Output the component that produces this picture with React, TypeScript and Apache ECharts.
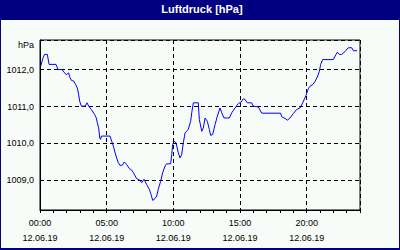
import React, { useEffect, useRef } from "react";
import * as echarts from "echarts";

const title = "Luftdruck [hPa]";
const unitLabel = "hPa";
const dateLabel = "12.06.19";
const hours = [
  0.05, 0.23, 0.34, 0.55, 0.68, 1.2, 1.35, 1.65, 1.85, 1.97, 2.15, 2.23, 2.35, 2.55, 2.68, 2.8, 2.9, 2.98,
  3.1, 3.38, 3.53, 3.65, 3.85, 4.1, 4.22, 4.3, 4.4, 4.48, 4.55, 4.6, 5.25, 5.38, 5.5, 5.7, 5.87, 6.0, 6.17,
  6.32, 6.5, 6.7, 6.88, 7.0, 7.25, 7.5, 7.63, 7.8, 8.0, 8.2, 8.33, 8.45, 8.63, 8.75, 8.87, 9.05, 9.2, 9.38,
  9.5, 9.8, 9.88, 9.95, 10.05, 10.2, 10.37, 10.5, 10.63, 10.75, 10.88, 11.12, 11.3, 11.38, 11.5, 11.87,
  11.95, 12.13, 12.25, 12.38, 12.55, 12.7, 12.8, 12.95, 13.13, 13.3, 13.5, 13.63, 13.8, 14.2, 14.38, 14.63,
  14.87, 15.08, 15.25, 15.38, 15.55, 15.88, 16.0, 16.37, 16.63, 18.05, 18.13, 18.38, 18.55, 18.75, 19.0,
  19.25, 19.5, 19.7, 19.95, 20.12, 20.25, 20.45, 20.63, 20.8, 20.95, 21.05, 21.2, 22.0, 22.2, 22.3, 22.45,
  22.63, 22.88, 23.12, 23.38, 23.5, 23.78,
];
const pressure = [
  1012.09, 1012.32, 1012.41, 1012.41, 1012.14, 1012.14, 1012.0, 1012.0, 1011.91, 1011.86, 1011.91, 1011.8,
  1011.71, 1011.68, 1011.59, 1011.5, 1011.32, 1011.14, 1011.01, 1011.01, 1011.1, 1011.01, 1010.92, 1010.78,
  1010.69, 1010.56, 1010.42, 1010.15, 1010.11, 1010.2, 1010.2, 1010.06, 1009.93, 1009.66, 1009.48, 1009.41,
  1009.41, 1009.5, 1009.43, 1009.32, 1009.28, 1009.21, 1009.05, 1009.0, 1008.94, 1009.03, 1008.89, 1008.76,
  1008.62, 1008.46, 1008.51, 1008.58, 1008.76, 1008.98, 1009.21, 1009.39, 1009.45, 1009.45, 1009.7, 1009.97,
  1010.06, 1010.02, 1009.75, 1009.61, 1009.7, 1010.02, 1010.29, 1010.38, 1010.6, 1010.83, 1011.1, 1011.1,
  1010.65, 1010.33, 1010.42, 1010.69, 1010.6, 1010.38, 1010.22, 1010.24, 1010.51, 1010.74, 1010.96, 1010.83,
  1010.69, 1010.69, 1010.83, 1010.96, 1011.08, 1011.12, 1011.21, 1011.19, 1011.1, 1011.1, 1011.01, 1010.99,
  1010.82, 1010.82, 1010.72, 1010.68, 1010.63, 1010.69, 1010.81, 1010.92, 1010.96, 1011.1, 1011.3, 1011.48,
  1011.55, 1011.59, 1011.68, 1011.8, 1011.95, 1012.14, 1012.27, 1012.27, 1012.41, 1012.47, 1012.41,
  1012.41, 1012.49, 1012.59, 1012.59, 1012.51, 1012.51,
];
const yMin = 1008.2;
const yMax = 1012.8;

const FONT = "'Liberation Sans', Arial, sans-serif";

export default function App() {
  const ref = useRef<HTMLDivElement>(null);
  useEffect(() => {
    document.body.style.margin = "0";
    const chart = echarts.init(ref.current!, undefined, { renderer: "svg" });
    const pad = (n: number) => (n < 10 ? "0" + n : "" + n);
    chart.setOption({
      animation: false,
      backgroundColor: "#f8fcf8",
      textStyle: { fontFamily: FONT },
      graphic: [
        { type: "rect", shape: { x: 0, y: 0, width: 400, height: 20 }, style: { fill: "#000080" }, silent: true },
        { type: "rect", shape: { x: 0, y: 20, width: 1, height: 230 }, style: { fill: "#000080" }, silent: true },
        { type: "rect", shape: { x: 399, y: 20, width: 1, height: 230 }, style: { fill: "#000080" }, silent: true },
        { type: "rect", shape: { x: 0, y: 248, width: 400, height: 2 }, style: { fill: "#000080" }, silent: true },
        {
          type: "text",
          x: 202,
          y: 9,
          style: {
            text: title,
            fill: "#ffffff",
            font: `bold 11px ${FONT}`,
            align: "center",
            verticalAlign: "middle",
          },
        },
        {
          type: "text",
          x: 34,
          y: 45,
          style: {
            text: unitLabel,
            fill: "#000000",
            font: `9px ${FONT}`,
            align: "right",
            verticalAlign: "middle",
          },
        },
      ],
      grid: {
        left: 40,
        top: 40,
        right: 40,
        bottom: 40,
        show: true,
        borderColor: "#000000",
        borderWidth: 1,
        backgroundColor: "transparent",
      },
      xAxis: [
        {
          type: "value",
          min: 0,
          max: 24,
          interval: 5,
          axisLine: { show: true, lineStyle: { color: "#000000", width: 1 } },
          axisTick: { show: false },
          axisLabel: {
            color: "#000000",
            fontSize: 9,
            fontFamily: FONT,
            margin: 5,
            lineHeight: 15,
            formatter: (v: number) => (v % 5 === 0 && v < 24 ? `${pad(v)}:00\n${dateLabel}` : ""),
          },
          splitLine: { show: true, lineStyle: { color: "#000000", width: 1, type: [4, 3] } },
        },
        {
          type: "value",
          min: 0,
          max: 24,
          interval: 1,
          position: "bottom",
          axisLine: { show: false },
          axisTick: { show: true, length: 3, lineStyle: { color: "#000000", width: 1 } },
          axisLabel: { show: false },
          splitLine: { show: false },
        },
      ],
      yAxis: {
        type: "value",
        min: yMin,
        max: yMax,
        axisLine: { show: true, lineStyle: { color: "#000000", width: 1 } },
        axisTick: { show: false },
        axisLabel: {
          color: "#000000",
          fontSize: 9,
          fontFamily: FONT,
          margin: 6,
          formatter: (v: number) =>
            Math.abs(v - Math.round(v)) < 1e-6 ? v.toFixed(1).replace(".", ",") : "",
        },
        splitLine: { show: true, lineStyle: { color: "#000000", width: 1, type: [4, 3] } },
      },
      series: [
        {
          type: "line",
          xAxisIndex: 0,
          data: hours.map((h, i) => [h, pressure[i]]),
          showSymbol: false,
          symbol: "none",
          lineStyle: { color: "#0000ff", width: 1 },
        },
      ],
    });
    return () => chart.dispose();
  }, []);
  return <div ref={ref} style={{ width: 400, height: 250 }} />;
}
